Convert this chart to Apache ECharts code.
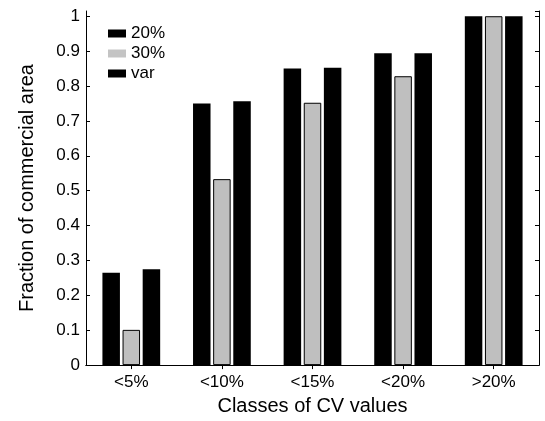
<!DOCTYPE html>
<html>
<head>
<meta charset="utf-8">
<script src="https://cdn.jsdelivr.net/npm/echarts@6/dist/echarts.min.js"></script>
<style>html,body{margin:0;padding:0;background:#fff;}#c{width:545px;height:421px;}</style>
</head>
<body>
<div id="c"></div>
<script>
var categories = ['<5%', '<10%', '<15%', '<20%', '>20%'];
var s20 = [0.265, 0.750, 0.850, 0.894, 1.0];
var s30 = [0.101, 0.533, 0.752, 0.828, 1.0];
var sVar = [0.275, 0.756, 0.852, 0.894, 1.0];
var seriesNames = ['20%', '30%', 'var'];

var font = 'Liberation Sans, Arial, Helvetica, sans-serif';
var chart = echarts.init(document.getElementById('c'), null, {renderer: 'canvas'});
var barW = 17.5;
chart.setOption({
  animation: false,
  backgroundColor: '#fff',
  grid: {left: 86, right: 6, top: 11, bottom: 53.5},
  legend: {
    orient: 'vertical', left: 108, top: 25, padding: 0,
    itemWidth: 18, itemHeight: 8, itemGap: 3,
    textStyle: {fontFamily: font, fontSize: 17, color: '#000', lineHeight: 17},
    data: [
      {name: seriesNames[0], icon: 'rect', itemStyle: {borderWidth: 0}},
      {name: seriesNames[1], icon: 'rect', itemStyle: {color: '#c4c4c4', borderWidth: 0}},
      {name: seriesNames[2], icon: 'rect', itemStyle: {borderWidth: 0}}
    ]
  },
  xAxis: [{
    type: 'category', data: categories, position: 'bottom',
    axisLine: {lineStyle: {color: '#000', width: 1}},
    axisTick: {show: false},
    axisLabel: {fontFamily: font, fontSize: 17, color: '#000', margin: 9},
    name: 'Classes of CV values', nameLocation: 'middle', nameGap: 30,
    nameTextStyle: {fontFamily: font, fontSize: 20, color: '#000'}
  }, {
    type: 'category', data: categories, position: 'top',
    axisLine: {lineStyle: {color: '#000', width: 1}},
    axisTick: {show: true, inside: true, length: 4, alignWithLabel: true, lineStyle: {color: '#000'}},
    axisLabel: {show: false}
  }],
  yAxis: [{
    type: 'value', min: 0, max: 1.015, interval: 0.1, position: 'left',
    axisLine: {show: true, lineStyle: {color: '#000', width: 1}},
    axisTick: {show: true, inside: true, length: 4, lineStyle: {color: '#000'}},
    splitLine: {show: false},
    axisLabel: {fontFamily: font, fontSize: 17, color: '#000', margin: 6, showMaxLabel: false,
      formatter: function(v){ return (Math.round(v*10)/10).toString(); }},
    name: 'Fraction of commercial area', nameLocation: 'middle', nameGap: 49,
    nameTextStyle: {fontFamily: font, fontSize: 20, color: '#000'}
  }, {
    type: 'value', min: 0, max: 1.015, interval: 0.1, position: 'right',
    axisLine: {show: true, lineStyle: {color: '#000', width: 1}},
    axisTick: {show: true, inside: true, length: 4, lineStyle: {color: '#000'}},
    splitLine: {show: false},
    axisLabel: {show: false}
  }],
  series: [
    {name: seriesNames[0], type: 'bar', data: s20, barWidth: barW, barGap: '15%',
      itemStyle: {color: '#000'}},
    {name: seriesNames[1], type: 'bar', data: s30, barWidth: barW, barGap: '15%',
      itemStyle: {color: '#bfbfbf', borderColor: '#000', borderWidth: 1}},
    {name: seriesNames[2], type: 'bar', data: sVar, barWidth: barW, barGap: '15%',
      itemStyle: {color: '#000'}}
  ]
});
</script>
</body>
</html>
